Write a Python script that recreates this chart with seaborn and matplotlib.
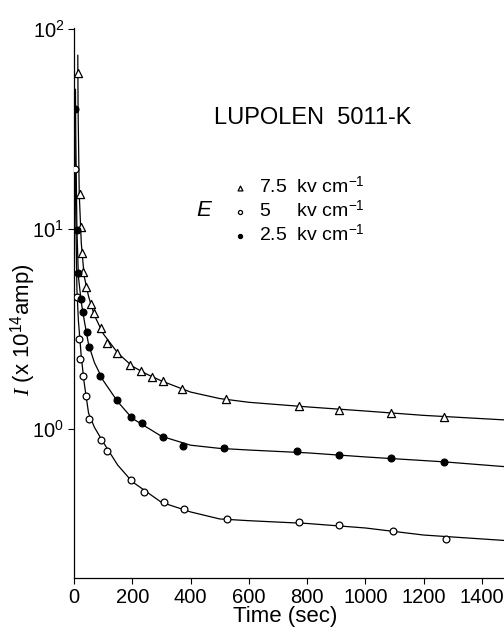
import numpy as np
import pandas as pd
import matplotlib
matplotlib.use("Agg")
import matplotlib.pyplot as plt
import seaborn as sns
from matplotlib.ticker import FixedLocator, NullLocator

# ---------------- data ----------------
# measured points, 7.5 kV/cm (open triangles)
t_75 = [13, 20, 24, 27, 32, 41, 57, 67, 92, 114, 149, 192, 231, 267, 307, 372, 522, 771, 910, 1089, 1269]
i_75 = [60, 15, 10.2, 7.6, 6.1, 5.1, 4.2, 3.8, 3.2, 2.7, 2.4, 2.09, 1.95, 1.83, 1.74, 1.58, 1.41, 1.30, 1.245, 1.20, 1.15]
# measured points, 5 kV/cm (open circles)
t_5 = [4, 11, 17, 21, 32, 42, 52, 92, 114, 196, 240, 309, 376, 525, 772, 908, 1094, 1278]
i_5 = [20, 4.55, 2.81, 2.24, 1.84, 1.47, 1.12, 0.88, 0.776, 0.556, 0.486, 0.433, 0.398, 0.353, 0.343, 0.332, 0.31, 0.282]
# measured points, 2.5 kV/cm (filled circles)
t_25 = [5, 10, 13, 23, 30, 43, 53, 89, 146, 194, 232, 304, 373, 515, 766, 908, 1087, 1271]
i_25 = [40, 9.9, 6.0, 4.45, 3.86, 3.05, 2.58, 1.84, 1.40, 1.15, 1.075, 0.915, 0.82, 0.80, 0.774, 0.74, 0.716, 0.684]

# drawn (fitted) curves
ct_75 = [13, 14, 18, 25, 35, 50, 70, 100, 150, 200, 250, 300, 400, 500, 600, 800, 1000, 1200, 1480]
ci_75 = [74, 40, 15, 8.5, 5.8, 4.6, 3.7, 3.0, 2.4, 2.06, 1.88, 1.74, 1.53, 1.42, 1.36, 1.29, 1.23, 1.17, 1.11]
ct_5 = [3, 4, 6, 10, 15, 25, 35, 50, 70, 100, 150, 200, 300, 400, 500, 600, 800, 1000, 1200, 1480]
ci_5 = [45, 25, 12, 5.0, 3.5, 2.3, 1.7, 1.2, 1.02, 0.86, 0.66, 0.545, 0.43, 0.385, 0.355, 0.348, 0.337, 0.32, 0.295, 0.277]
ct_25 = [5, 6, 10, 15, 25, 35, 50, 70, 100, 150, 200, 300, 400, 500, 600, 800, 1000, 1271, 1480]
ci_25 = [50, 30, 10, 5.8, 4.3, 3.5, 2.65, 2.15, 1.75, 1.37, 1.13, 0.92, 0.83, 0.80, 0.785, 0.76, 0.725, 0.685, 0.648]

x_ticks = [0, 200, 400, 600, 800, 1000, 1200, 1400]
y_ticks = [1, 10, 100]
y_ticklabels = [r"$10^0$", r"$10^1$", r"$10^2$"]
series_labels = [r"7.5  kv cm$^{-1}$", r"5     kv cm$^{-1}$", r"2.5  kv cm$^{-1}$"]

# ---------------- style ----------------
sns.set_theme(style="ticks")
plt.rcParams["font.family"] = ["Liberation Sans", "DejaVu Sans"]
plt.rcParams["mathtext.fontset"] = "custom"
plt.rcParams["mathtext.rm"] = "Liberation Sans"
plt.rcParams["mathtext.it"] = "Liberation Serif:italic"
plt.rcParams["mathtext.bf"] = "Liberation Sans:bold"

W, H = 504, 638
fig = plt.figure(figsize=(W / 100, H / 100), dpi=100)
ax_left, ax_right, ax_top, ax_bot = 74, 504, 28, 578
ax = fig.add_axes([ax_left / W, 1 - ax_bot / H, (ax_right - ax_left) / W, (ax_bot - ax_top) / H])

lw = 0.9
# curves
for ct, ci in [(ct_75, ci_75), (ct_5, ci_5), (ct_25, ci_25)]:
    sns.lineplot(x=ct, y=ci, ax=ax, color="black", linewidth=lw, sort=False,
                 estimator=None, zorder=2)

# markers
sns.scatterplot(x=t_75, y=i_75, ax=ax, marker="^", s=34, color="white",
                edgecolor="black", linewidth=0.9, zorder=3, label=series_labels[0])
sns.scatterplot(x=t_5, y=i_5, ax=ax, marker="o", s=24, color="white",
                edgecolor="black", linewidth=0.9, zorder=3, label=series_labels[1])
sns.scatterplot(x=t_25, y=i_25, ax=ax, marker="o", s=24, color="black",
                edgecolor="black", linewidth=0.9, zorder=3, label=series_labels[2])

ax.set_yscale("log")
ax.set_xlim(0, 1476)
ax.set_ylim(10 ** ((429 - 578) / 200), 10 ** ((429 - 28) / 200))

ax.xaxis.set_major_locator(FixedLocator(x_ticks))
ax.set_xticklabels([str(v) for v in x_ticks])
ax.yaxis.set_major_locator(FixedLocator(y_ticks))
ax.yaxis.set_minor_locator(NullLocator())
ax.set_yticklabels(y_ticklabels)

ax.tick_params(axis="both", direction="out", length=4, width=0.8, color="black",
               labelsize=14.5, labelcolor="black", pad=3)

for side in ["top", "right"]:
    ax.spines[side].set_visible(False)
for side in ["left", "bottom"]:
    ax.spines[side].set_color("black")
    ax.spines[side].set_linewidth(0.9)

ax.set_xlabel("Time (sec)", fontsize=16, color="black")
ax.xaxis.set_label_coords((285 - ax_left) / (ax_right - ax_left), -(606 - ax_bot) / (ax_bot - ax_top))
ax.set_ylabel(r"$\mathit{I}$ (x 10$^{14}$amp)", fontsize=16, color="black")
ax.yaxis.set_label_coords(-(ax_left - 38) / (ax_right - ax_left), (ax_bot - 330) / (ax_bot - ax_top))

ax.text((313 - ax_left) / (ax_right - ax_left), (ax_bot - 118) / (ax_bot - ax_top),
        "LUPOLEN  5011-K", transform=ax.transAxes, ha="center", va="center",
        fontsize=17, color="black")
ax.text((204 - ax_left) / (ax_right - ax_left), (ax_bot - 210) / (ax_bot - ax_top),
        "E", transform=ax.transAxes, ha="center", va="center",
        fontsize=16, style="italic", color="black")

leg = ax.legend(loc="upper left",
                bbox_to_anchor=((234 - ax_left) / (ax_right - ax_left), (ax_bot - 176) / (ax_bot - ax_top)),
                frameon=False, fontsize=14, handlelength=0.6, handletextpad=0.7,
                labelspacing=0.15, borderpad=0, borderaxespad=0, markerscale=0.6)
for t in leg.get_texts():
    t.set_color("black")

fig.savefig("out.png", dpi=100)
